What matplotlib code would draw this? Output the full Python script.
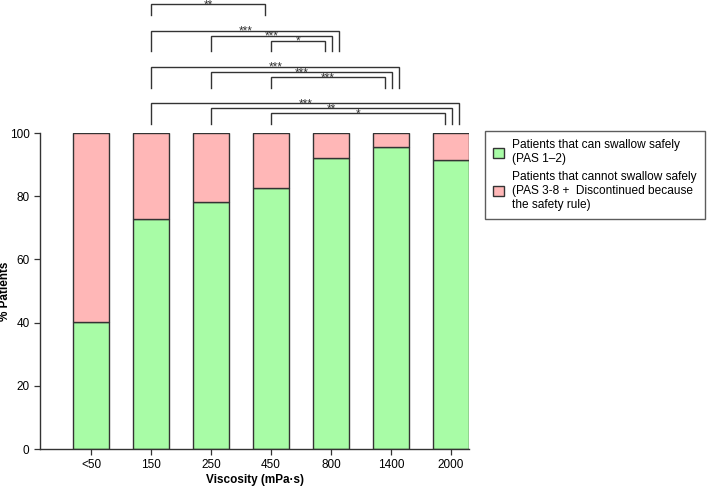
import matplotlib
matplotlib.use("Agg")
import matplotlib.pyplot as plt
from matplotlib.patches import Patch

plt.rcParams['font.family'] = ['Liberation Sans', 'DejaVu Sans']

# dati
viscosita = ["<50", "150", "250", "450", "800", "1400", "2000"]
sicuri = [40.3, 72.7, 78.2, 82.5, 92.1, 95.6, 91.5]
non_sicuri = [100 - v for v in sicuri]

# confronti significativi: (da, a, stelle), raggruppati per colonna di arrivo
confronti = [
    ("150", "450", "**"),
    ("150", "800", "***"), ("250", "800", "***"), ("450", "800", "*"),
    ("150", "1400", "***"), ("250", "1400", "***"), ("450", "1400", "***"),
    ("150", "2000", "***"), ("250", "2000", "**"), ("450", "2000", "*"),
]

verde = "#a8fca6"
rosa = "#ffb7b7"
bordo = "#333333"

fig = plt.figure(figsize=(7.09, 4.92), dpi=100)
ax = fig.add_axes([40 / 709, 43 / 492, 429 / 709, 316 / 492])

x = list(range(len(viscosita)))
ax.bar(x, sicuri, width=0.6, color=verde, edgecolor=bordo, linewidth=1.0)
ax.bar(x, non_sicuri, width=0.6, bottom=sicuri, color=rosa, edgecolor=bordo, linewidth=1.0)

ax.set_xlim(-0.85, 6.3)
ax.set_ylim(0, 100)
ax.set_yticks([0, 20, 40, 60, 80, 100])
ax.set_xticks(x)
ax.set_xticklabels(viscosita)
ax.tick_params(labelsize=8.5, color=bordo, length=4, width=0.9)
for s in ["top", "right"]:
    ax.spines[s].set_visible(False)
for s in ["left", "bottom"]:
    ax.spines[s].set_color(bordo)
    ax.spines[s].set_linewidth(1.0)

ax.set_ylabel("% Patients", fontsize=8.5, fontweight="bold")
ax.yaxis.set_label_coords(-0.068, 0.5)
ax.set_xlabel("Viscosity (mPa\u00b7s)", fontsize=8.5, fontweight="bold", labelpad=2)

# parentesi di significatività sopra le barre
gruppi = {}
for a, b, st in confronti:
    gruppi.setdefault(b, []).append((a, st))
ordine = ["2000", "1400", "800", "450"]
for g, dest in enumerate(ordine):
    lista = gruppi[dest]
    k = len(lista)
    base = 102.8 + g * 11.5
    j = viscosita.index(dest)
    for r, (a, st) in enumerate(lista):
        i = viscosita.index(a)
        top = base + 3.4 + (k - 1 - r) * 1.6
        xe = j - 0.1 + (k - 1 - r) * 0.12
        ax.plot([i, i, xe, xe], [base, top, top, base], color=bordo, lw=1.0,
                clip_on=False, solid_joinstyle="miter")
        ax.text((i + xe) / 2, top - 2.2, st, ha="center", va="bottom",
                fontsize=8.5, color=bordo, clip_on=False)

maniglie = [
    Patch(facecolor=verde, edgecolor=bordo, linewidth=1.0),
    Patch(facecolor=rosa, edgecolor=bordo, linewidth=1.0),
]
etichette = [
    "Patients that can swallow safely\n(PAS 1\u20132)",
    "Patients that cannot swallow safely\n(PAS 3-8 +  Discontinued because\nthe safety rule)",
]
leg = fig.legend(maniglie, etichette, loc="upper left",
                 bbox_to_anchor=(485 / 709, 1 - 131 / 492), fontsize=8.6,
                 frameon=True, fancybox=False, edgecolor=bordo,
                 handlelength=0.9, handleheight=0.9, handletextpad=0.7,
                 labelspacing=0.5, borderpad=0.7, borderaxespad=0)
leg.get_frame().set_linewidth(1.0)

fig.savefig("out.png", dpi=100)
